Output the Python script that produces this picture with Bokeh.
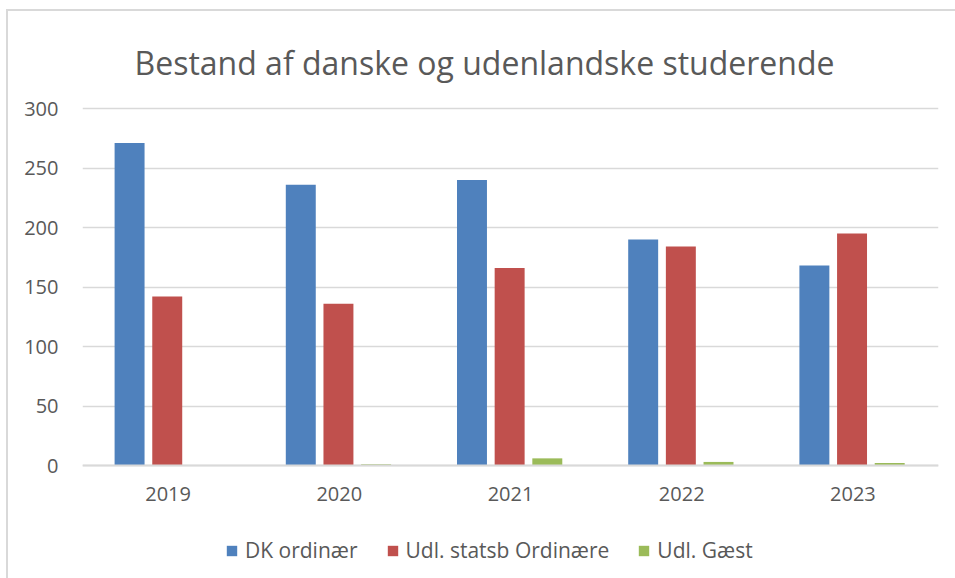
from bokeh.plotting import figure
from bokeh.models import ColumnDataSource, Legend, LegendItem, Label, FactorRange, Range1d
from bokeh.transform import dodge
from bokeh.embed import file_html
from bokeh.resources import INLINE

years = ["2019", "2020", "2021", "2022", "2023"]
dk_ordinaer = [271, 236, 240, 190, 168]
udl_statsb = [142, 136, 166, 184, 195]
udl_gaest = [0, 1, 6, 3, 2]
series_names = ["DK ordinær", "Udl. statsb Ordinære", "Udl. Gæst"]
colors = ["#4F81BD", "#C0504D", "#9BBB59"]
y_ticks = [0, 50, 100, 150, 200, 250, 300]

FONT = "Open Sans"
TXT = "#595959"

# layout: canvas 955x578; value axis from 0 (y=465) to 300 (y=108)
W, H = 955, 578
Y0_PX, Y300_PX = 465, 108
ppu = (Y0_PX - Y300_PX) / 300.0
y_start = -(H - Y0_PX) / ppu
y_end = 300 + Y300_PX / ppu

source = ColumnDataSource(data=dict(years=years, dk=dk_ordinaer, udl=udl_statsb, gaest=udl_gaest))

p = figure(x_range=FactorRange(*years, range_padding=0), y_range=Range1d(y_start, y_end),
           width=W, height=H, output_backend="svg", toolbar_location=None,
           min_border_left=82, min_border_right=17, min_border_top=0, min_border_bottom=0)
p.border_fill_color = None
p.background_fill_color = None
p.styles = {
    "background": "linear-gradient(#d9d9d9, #d9d9d9) 6px 9px / 2px 100% no-repeat, "
                  "linear-gradient(#d9d9d9, #d9d9d9) 6px 9px / 100% 2px no-repeat, #ffffff"
}

r1 = p.vbar(x=dodge("years", -0.225, range=p.x_range), top="dk", width=0.175, source=source,
            color=colors[0], line_color=None)
r2 = p.vbar(x=dodge("years", -0.005, range=p.x_range), top="udl", width=0.175, source=source,
            color=colors[1], line_color=None)
r3 = p.vbar(x=dodge("years", 0.215, range=p.x_range), top="gaest", width=0.175, source=source,
            color=colors[2], line_color=None)

p.outline_line_color = None
p.xgrid.grid_line_color = None
p.ygrid.grid_line_color = "#D9D9D9"
p.ygrid.grid_line_width = 1.5
p.yaxis.ticker = y_ticks
p.yaxis.axis_line_color = None
p.yaxis.major_tick_line_color = None
p.yaxis.minor_tick_line_color = None
p.yaxis.major_label_standoff = 18
p.yaxis.major_label_text_font = FONT
p.yaxis.major_label_text_font_size = "20px"
p.yaxis.major_label_text_color = TXT

p.xaxis.fixed_location = 0
p.xaxis.axis_line_color = "#D9D9D9"
p.xaxis.axis_line_width = 2
p.xaxis.major_tick_line_color = None
p.xaxis.minor_tick_line_color = None
p.xaxis.major_label_standoff = 15
p.xaxis.major_label_text_font = FONT
p.xaxis.major_label_text_font_size = "20px"
p.xaxis.major_label_text_color = TXT

title = Label(x=402, y=H - 62, x_units="screen", y_units="screen",
              text="Bestand af danske og udenlandske studerende",
              text_font=FONT, text_font_size="32px", text_color=TXT,
              text_align="center", text_baseline="alphabetic")
p.add_layout(title)

legend = Legend(items=[LegendItem(label=series_names[0], renderers=[r1]),
                       LegendItem(label=series_names[1], renderers=[r2]),
                       LegendItem(label=series_names[2], renderers=[r3])],
                orientation="horizontal", location=(143, 14),
                glyph_width=13, glyph_height=13, label_height=13, label_standoff=7, spacing=28,
                padding=0, margin=0, border_line_color=None, background_fill_alpha=0,
                label_text_font=FONT, label_text_font_size="21px", label_text_color=TXT)
p.add_layout(legend)

open("out.html", "w").write(file_html(p, INLINE))
